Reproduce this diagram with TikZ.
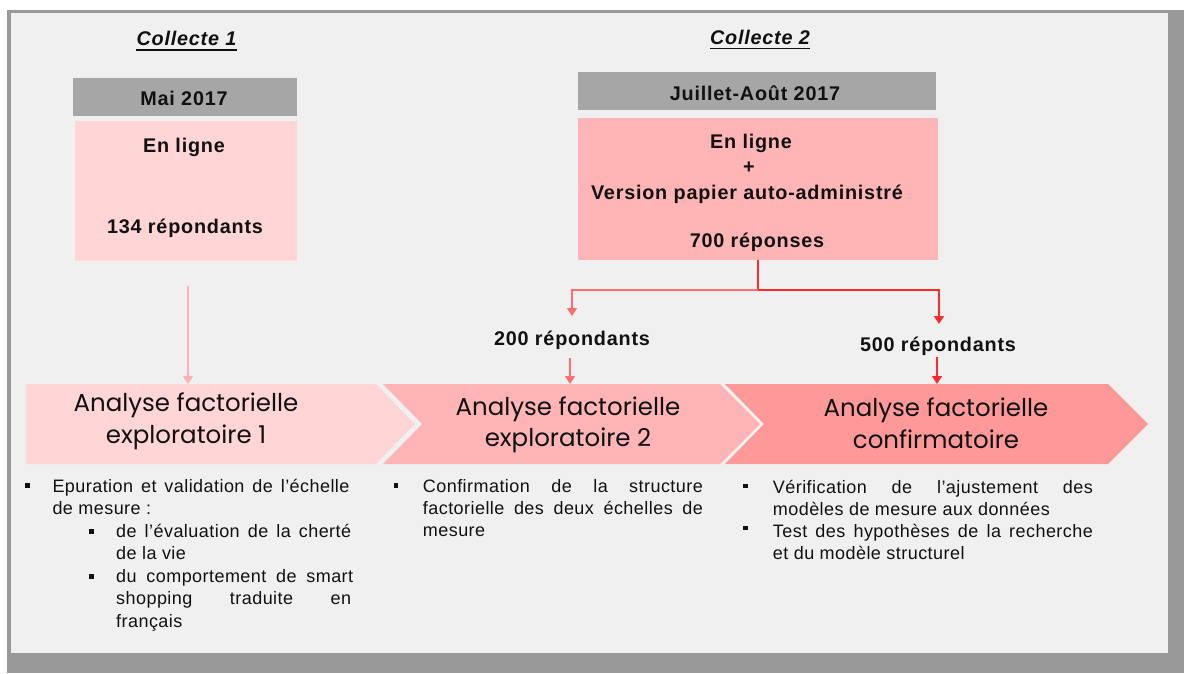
\documentclass[tikz,border=0pt]{standalone}
\usepackage{fontspec}
\setmainfont{Liberation Sans}
\newfontfamily\spc{Liberation Sans}[LetterSpace=4]
\newfontfamily\bodyf{Liberation Sans}[LetterSpace=2.5]
\newfontfamily\chev{Poppins}
\usetikzlibrary{arrows.meta}
\definecolor{framegray}{HTML}{999999}
\definecolor{bgin}{HTML}{F0F0F0}
\definecolor{dategray}{HTML}{A6A6A6}
\definecolor{pinkA}{HTML}{FFD5D5}
\definecolor{pinkB}{HTML}{FFB5B5}
\definecolor{pinkC}{HTML}{FF9999}
\definecolor{arrA}{HTML}{FFB0B0}
\definecolor{arrB}{HTML}{FF6E6E}
\definecolor{arrC}{HTML}{FF2B2B}
\definecolor{txt}{HTML}{111111}
\newcommand\jline[2]{\makebox[#1][s]{#2}}
\begin{document}
\begin{tikzpicture}[x=1pt,y=-1pt,
  boxtxt/.style={anchor=base,inner sep=0pt,text=txt,font=\spc\bfseries\fontsize{19.8}{23}\selectfont},
  titletxt/.style={anchor=base,inner sep=0pt,text=txt,font=\spc\bfseries\itshape\fontsize{19.8}{23}\selectfont},
  chevtxt/.style={anchor=base,inner sep=0pt,text=txt,font=\chev\fontsize{24.5}{28}\selectfont},
  bodytxt/.style={anchor=base west,inner sep=0pt,text=txt,font=\bodyf\fontsize{18}{21}\selectfont},
  datebox/.style={fill=dategray,draw=none,inner sep=0pt},
  pinkbox/.style={draw=none,inner sep=0pt},
  arrowline/.style={line width=1.6pt,-{Triangle[width=10pt,length=8pt]}},
  bullet/.style={fill=txt}
]
\useasboundingbox (0,0) rectangle (1184,673);
\fill[white] (0,0) rectangle (1184,673);
\fill[framegray] (7,10) rectangle (1184,673);
\fill[bgin] (11,13) rectangle (1168,653);

% titles
\node[titletxt] (c1) at (186.5,45.5) {Collecte 1};
\draw[txt,line width=1.6pt] ([yshift=-4.5pt]c1.base west) -- ([yshift=-4.5pt]c1.base east);
\node[titletxt] (c2) at (760,44) {Collecte 2};
\draw[txt,line width=1.6pt] ([yshift=-4.5pt]c2.base west) -- ([yshift=-4.5pt]c2.base east);

% date boxes
\node[datebox,minimum width=224pt,minimum height=38pt] (d1) at (185,97) {};
\node[boxtxt] (d1t) at (184,105) {Mai 2017};
\node[datebox,minimum width=358pt,minimum height=38pt] (d2) at (757,91) {};
\node[boxtxt] (d2t) at (755,100) {Juillet-Août 2017};

% pink boxes
\node[pinkbox,fill=pinkA,minimum width=222pt,minimum height=140pt] (b1) at (186,191) {};
\node[boxtxt] (b1a) at (184,152.3) {En ligne};
\node[boxtxt] (b1b) at (185,233.3) {134 répondants};
\node[pinkbox,fill=pinkB,minimum width=360pt,minimum height=142pt] (b2) at (758,189) {};
\node[boxtxt] (b2a) at (751,148.3) {En ligne};
\node[boxtxt] (b2b) at (749,173.4) {+};
\node[boxtxt] (b2c) at (747,199.3) {Version papier auto-administré};
\node[boxtxt] (b2d) at (757,247.7) {700 réponses};

% chevrons
\fill[pinkA] (26,384) -- (376,384) -- (415,424) -- (376,464) -- (26,464) -- cycle;
\fill[pinkB] (383,384) -- (720,384) -- (760,424) -- (720,464) -- (383,464) -- (422,424) -- cycle;
\fill[pinkC] (725,384) -- (1108,384) -- (1148,424) -- (1108,464) -- (725,464) -- (764,424) -- cycle;
\node[chevtxt] (ch1a) at (186,411.7) {Analyse factorielle};
\node[chevtxt] (ch1b) at (186,443.3) {exploratoire 1};
\node[chevtxt] (ch2a) at (568,415) {Analyse factorielle};
\node[chevtxt] (ch2b) at (568,446.7) {exploratoire 2};
\node[chevtxt] (ch3a) at (936,416.7) {Analyse factorielle};
\node[chevtxt] (ch3b) at (936,448) {confirmatoire};

% counts
\node[boxtxt] (n200) at (572,345) {200 répondants};
\node[boxtxt] (n500) at (938,351.7) {500 répondants};

% connectors
\coordinate (a1s) at (188,286);
\coordinate (a1e) at (188,384);
\draw[arrowline,arrA] (a1s) -- (a1e);
\coordinate (split) at (758,290);
\coordinate (e200) at (572,316);
\coordinate (e500) at (939,324);
\draw[line width=1.6pt,arrC] (b2.south) -- (split);
\draw[arrowline,arrB] (split) -| (e200);
\draw[arrowline,arrC] (split) -| (e500);
\coordinate (f200s) at (570,358);
\coordinate (f200e) at (570,384);
\draw[arrowline,arrB] (f200s) -- (f200e);
\coordinate (f500s) at (937,357);
\coordinate (f500e) at (937,384);
\draw[arrowline,arrC] (f500s) -- (f500e);

% list 1
\fill[bullet] (25.2,483.1) rectangle (29.8,487.7);
\node[bodytxt] (l1a) at (52.3,492) {\jline{297pt}{Epuration et validation de l’échelle}};
\node[bodytxt] (l1b) at (52.3,514) {de mesure :};
\fill[bullet] (89,529) rectangle (93.6,533.6);
\node[bodytxt] (l1c) at (116,537) {\jline{235pt}{de l’évaluation de la cherté}};
\node[bodytxt] (l1d) at (116,559) {de la vie};
\fill[bullet] (89,574) rectangle (93.6,578.6);
\node[bodytxt] (l1e) at (116,582) {\jline{237pt}{du comportement de smart}};
\node[bodytxt] (l1f) at (116,604) {\jline{235pt}{shopping traduite en}};
\node[bodytxt] (l1g) at (116,627) {français};

% list 2
\fill[bullet] (393.7,483.1) rectangle (398.3,487.7);
\node[bodytxt] (l2a) at (422.7,492) {\jline{280pt}{Confirmation de la structure}};
\node[bodytxt] (l2b) at (422.7,514) {\jline{280pt}{factorielle des deux échelles de}};
\node[bodytxt] (l2c) at (422.7,536) {mesure};

% list 3
\fill[bullet] (743.2,483.6) rectangle (747.8,488.2);
\node[bodytxt] (l3a) at (772.7,493) {\jline{320pt}{Vérification de l’ajustement des}};
\node[bodytxt] (l3b) at (772.7,515) {modèles de mesure aux données};
\fill[bullet] (743.2,525.6) rectangle (747.8,530.2);
\node[bodytxt] (l3c) at (772.7,537) {\jline{320pt}{Test des hypothèses de la recherche}};
\node[bodytxt] (l3d) at (772.7,559) {et du modèle structurel};
\end{tikzpicture}
\end{document}
